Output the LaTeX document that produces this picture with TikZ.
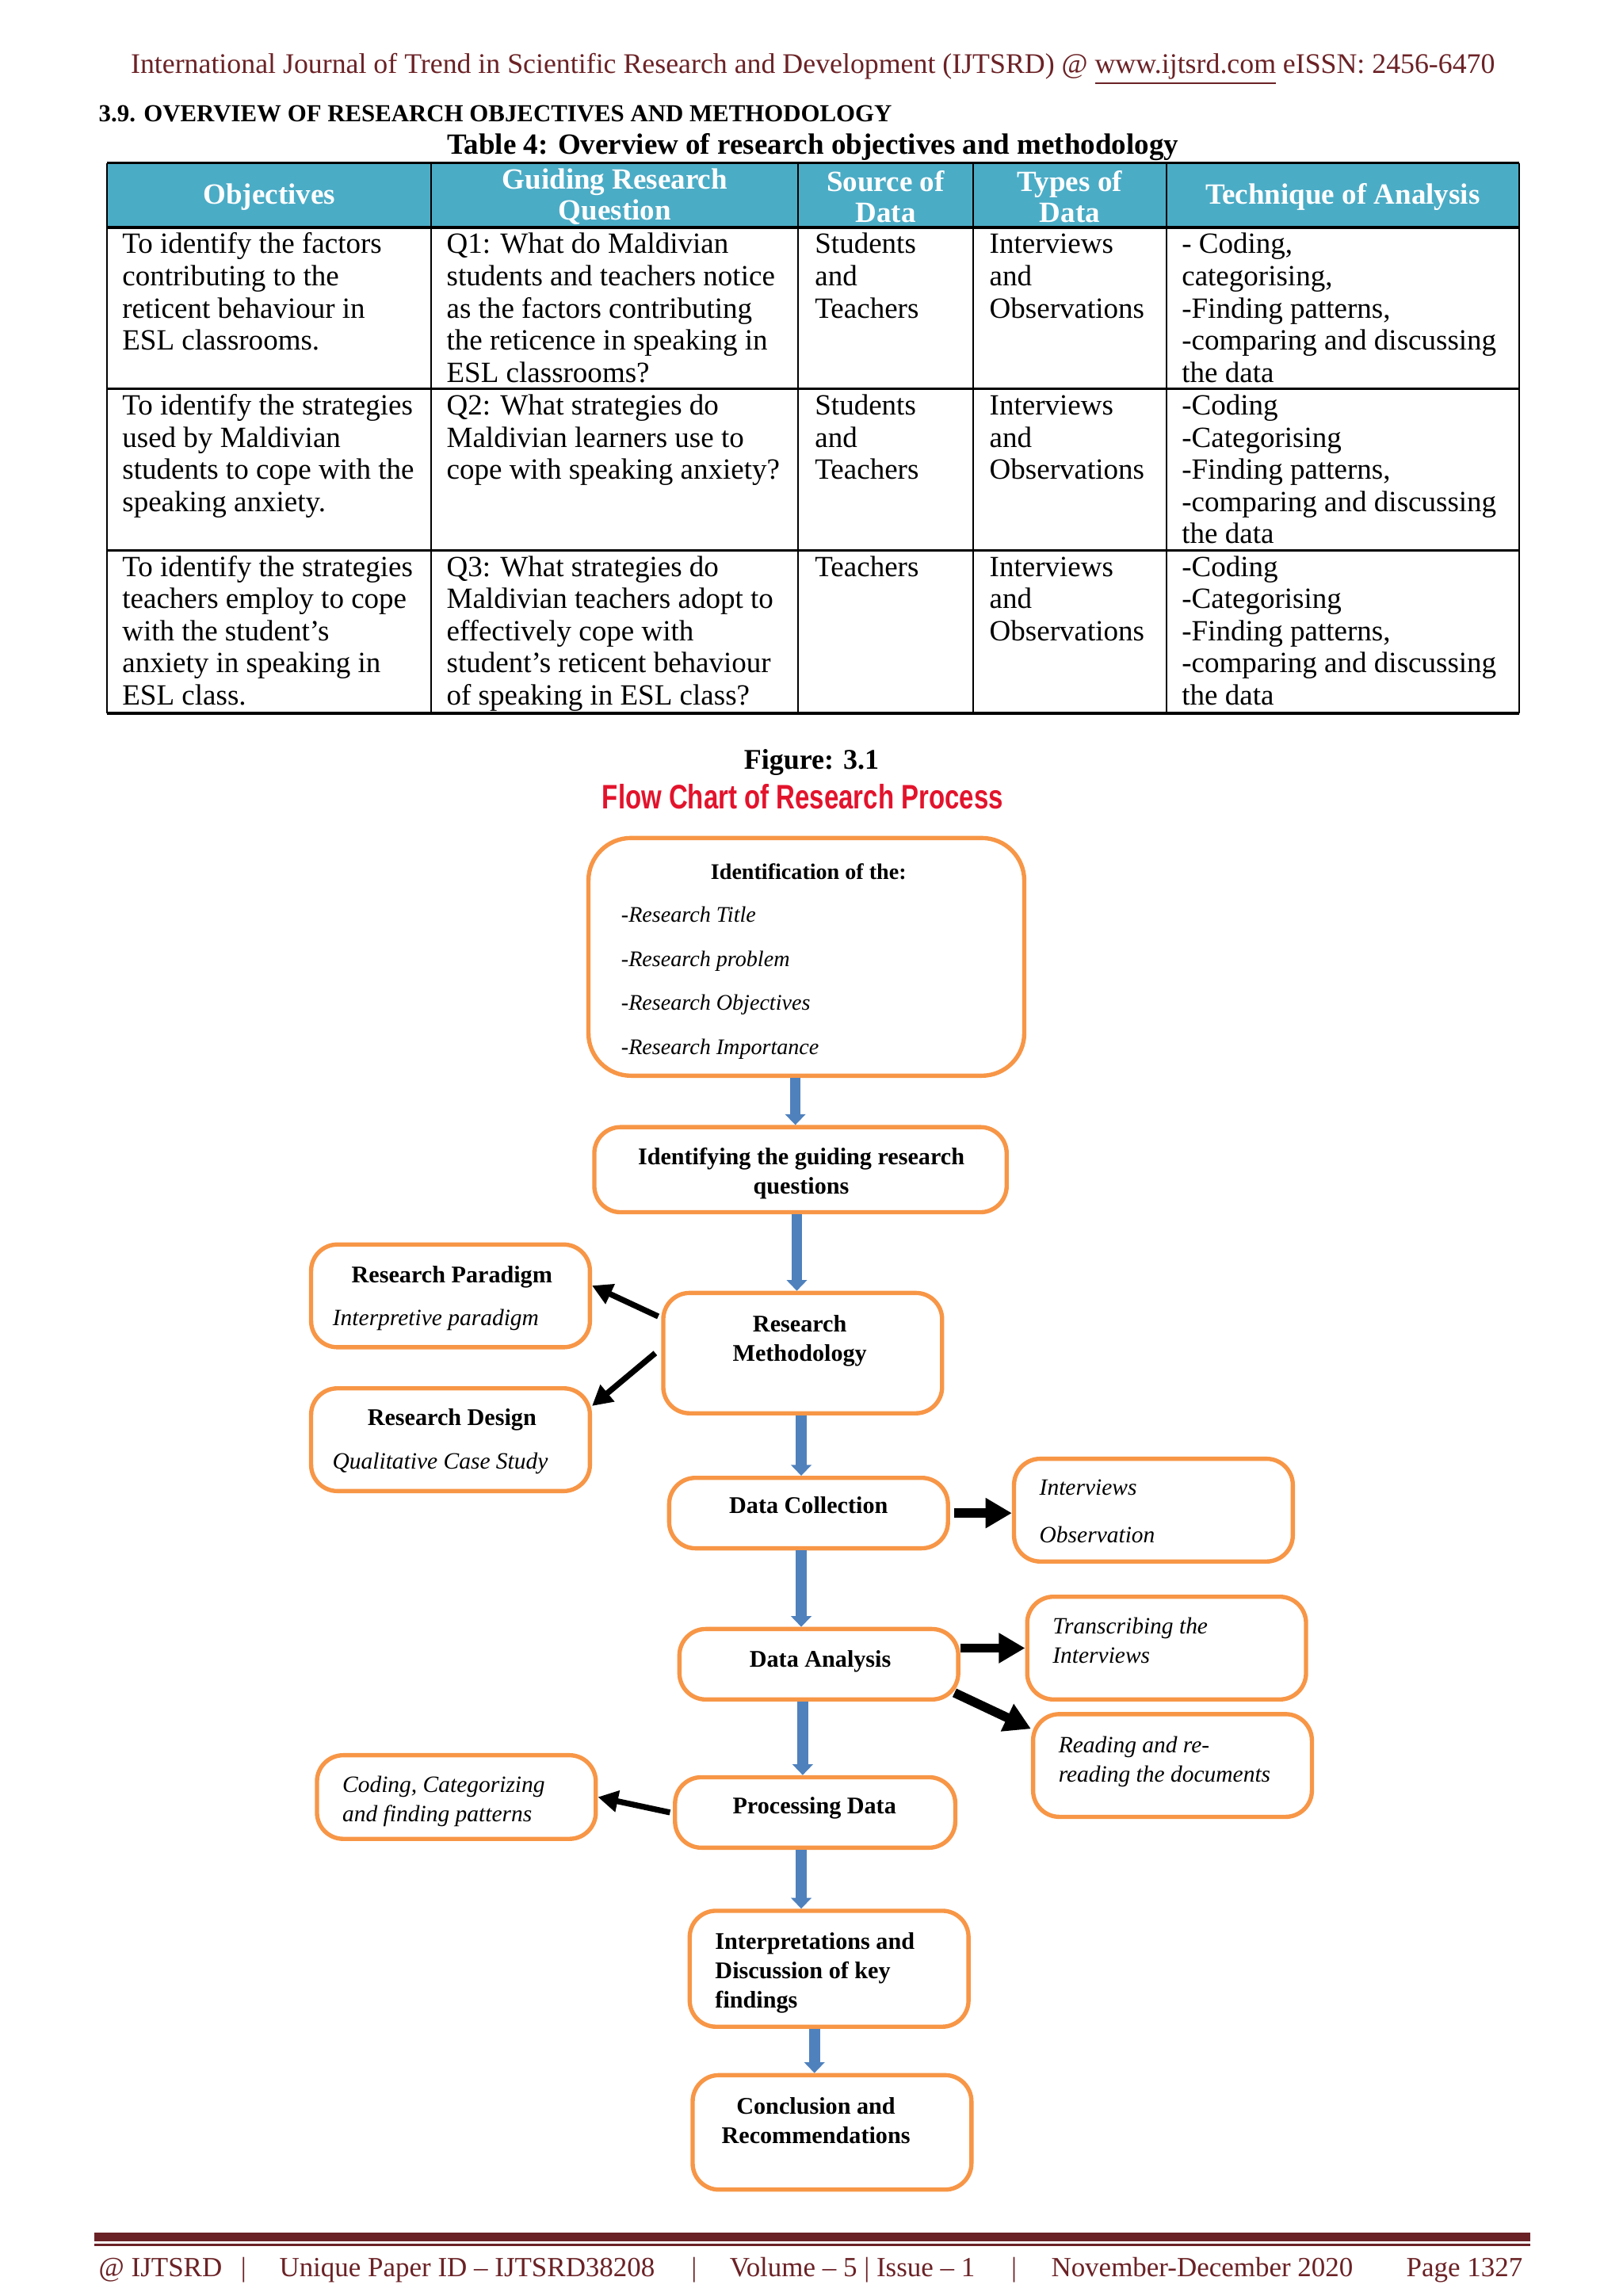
\documentclass[tikz,border=0pt]{standalone}
\usepackage{fontspec}
\setmainfont{Liberation Serif}
\newfontfamily\titlefont[FakeStretch=0.77]{Liberation Sans}
\usetikzlibrary{arrows.meta}
\usetikzlibrary{positioning}

\definecolor{ijmaroon}{HTML}{6B2226}
\definecolor{headteal}{HTML}{4BACC6}
\definecolor{boxorange}{HTML}{F79646}
\definecolor{flowblue}{HTML}{4F81BD}
\definecolor{titlered}{HTML}{E3132C}

\def\pxu{0.18987mm}

\tikzset{
  fcbox/.style={draw=boxorange, line width=0.55mm, rounded corners=3.4mm, fill=white, inner sep=0pt},
  bluearrow/.style={draw=flowblue, line width=1.4mm, -{Triangle[length=1.4mm,width=2.6mm]}},
  blackarrow/.style={draw=black, line width=1.2mm, -{Triangle[length=3.4mm,width=3.7mm]}},
  thinarrow/.style={draw=black, line width=0.75mm, -{Triangle[length=2.6mm,width=2.7mm]}},
  cell/.style={font=\fontsize{10.8}{11.84}\selectfont, anchor=north west, align=left, inner sep=0pt},
  headcell/.style={font=\fontsize{10.8}{11.3}\selectfont\bfseries, text=white, align=center, inner sep=0pt},
  fcbold/.style={font=\fontsize{8.8}{10.8}\selectfont\bfseries, inner sep=0pt},
  fcital/.style={font=\fontsize{8.6}{10.8}\selectfont\itshape, inner sep=0pt},
  pagetext/.style={font=\fontsize{10.2}{12}\selectfont, text=ijmaroon, inner sep=0pt}
}

\begin{document}
\begin{tikzpicture}[x=0.18987mm, y=-0.18987mm]
\useasboundingbox (0,0) rectangle (1106,1564.5);
\fill[white] (0,0) rectangle (1106,1564.5);

\node[pagetext, font=\fontsize{10.45}{12}\selectfont, anchor=base] (jhead) at (554,50) {International Journal of Trend in Scientific Research and Development (IJTSRD) @ \underline{www.ijtsrd.com} eISSN: 2456-6470};
\node[font=\fontsize{9}{11}\selectfont\bfseries, anchor=base west, inner sep=0pt] (sechead) at (67,83) {3.9. OVERVIEW OF RESEARCH OBJECTIVES AND METHODOLOGY};
\node[font=\fontsize{10.8}{12}\selectfont\bfseries, anchor=base, inner sep=0pt] (tabcap) at (554,105) {Table 4: Overview of research objectives and methodology};

\fill[headteal] (73,111) rectangle (1035,155);
\foreach \yy in {111,155,265,375,486}
  \draw[line width=0.35mm] (73,\yy) -- (1035,\yy);
\foreach \xx in {73,294,544,663,795,1035}
  \draw[line width=0.2mm] (\xx,111) -- (\xx,486);

\node[headcell] (hobj) at (183.5,134) {Objectives};
\node[headcell] (hquest) at (419,134) {Guiding Research\\Question};
\node[headcell] (hsource) at (603.5,134) {Source of\\Data};
\node[headcell] (htype) at (729,134) {Types of\\Data};
\node[headcell] (htech) at (915,134) {Technique of Analysis};

\node[cell] (obja) at (83,157) {\strut To identify the factors\\contributing to the\\reticent behaviour in\\ESL classrooms.};
\node[cell] (questa) at (304,157) {\strut Q1: What do Maldivian\\students and teachers notice\\as the factors contributing\\the reticence in speaking in\\ESL classrooms?};
\node[cell] (sourcea) at (555,157) {\strut Students\\and\\Teachers};
\node[cell] (typea) at (674,157) {\strut Interviews\\and\\Observations};
\node[cell] (techa) at (805,157) {\strut - Coding,\\categorising,\\-Finding patterns,\\-comparing and discussing\\the data};

\node[cell] (objb) at (83,267) {\strut To identify the strategies\\used by Maldivian\\students to cope with the\\speaking anxiety.};
\node[cell] (questb) at (304,267) {\strut Q2: What strategies do\\Maldivian learners use to\\cope with speaking anxiety?};
\node[cell] (sourceb) at (555,267) {\strut Students\\and\\Teachers};
\node[cell] (typeb) at (674,267) {\strut Interviews\\and\\Observations};
\node[cell] (techb) at (805,267) {\strut -Coding\\-Categorising\\-Finding patterns,\\-comparing and discussing\\the data};

\node[cell] (objc) at (83,377) {\strut To identify the strategies\\teachers employ to cope\\with the student’s\\anxiety in speaking in\\ESL class.};
\node[cell] (questc) at (304,377) {\strut Q3: What strategies do\\Maldivian teachers adopt to\\effectively cope with\\student’s reticent behaviour\\of speaking in ESL class?};
\node[cell] (sourcec) at (555,377) {\strut Teachers};
\node[cell] (typec) at (674,377) {\strut Interviews\\and\\Observations};
\node[cell] (techc) at (805,377) {\strut -Coding\\-Categorising\\-Finding patterns,\\-comparing and discussing\\the data};

\node[font=\fontsize{10.5}{12}\selectfont\bfseries, anchor=base, inner sep=0pt] (figcap) at (553,524) {Figure: 3.1};
\node[font={\titlefont\bfseries\fontsize{12.5}{14}\selectfont}, text=titlered, anchor=base, inner sep=0pt] (fctitle) at (547,551) {Flow Chart of Research Process};

\node[fcbox, rounded corners=5.5mm, minimum width=297*\pxu, minimum height=162*\pxu] (ident) at (549.5,652) {};
\node[fcbox, minimum width=281*\pxu, minimum height=58*\pxu] (guide) at (545.5,797) {};
\node[fcbox, minimum width=190*\pxu, minimum height=82*\pxu] (meth) at (547,922) {};
\node[fcbox, minimum width=190*\pxu, minimum height=70*\pxu] (para) at (307,883) {};
\node[fcbox, minimum width=190*\pxu, minimum height=70*\pxu] (design) at (307,981) {};
\node[fcbox, minimum width=190*\pxu, minimum height=48*\pxu] (coll) at (551,1031) {};
\node[fcbox, minimum width=190*\pxu, minimum height=70*\pxu] (intv) at (786,1029) {};
\node[fcbox, minimum width=190*\pxu, minimum height=48*\pxu] (anal) at (558,1134) {};
\node[fcbox, minimum width=190*\pxu, minimum height=70*\pxu] (trans) at (795,1123) {};
\node[fcbox, minimum width=190*\pxu, minimum height=70*\pxu] (read) at (799,1203) {};
\node[fcbox, minimum width=191*\pxu, minimum height=48*\pxu] (proc) at (555.5,1235) {};
\node[fcbox, minimum width=190*\pxu, minimum height=57*\pxu] (code) at (311,1224.5) {};
\node[fcbox, minimum width=190*\pxu, minimum height=79*\pxu] (interp) at (565,1341.5) {};
\node[fcbox, minimum width=190*\pxu, minimum height=78*\pxu] (concl) at (567,1453) {};

\node[fcbold, font=\fontsize{8.2}{10}\selectfont\bfseries, anchor=base] (identhead) at (551,599) {Identification of the:};
\node[fcital, font=\fontsize{8.2}{16.2}\selectfont\itshape, anchor=north west, align=left] (identlist) at (423,607) {\strut -Research Title\\-Research problem\\-Research Objectives\\-Research Importance};
\node[fcbold, anchor=north, align=center] (guidetxt) at (546,779) {\strut Identifying the guiding research\\questions};
\node[fcbold, anchor=north, align=center] (methtxt) at (545,893) {\strut Research\\Methodology};
\node[fcbold, anchor=base] (paratxt) at (308,874) {Research Paradigm};
\node[fcital, anchor=base] (parasub) at (297,903) {Interpretive paradigm};
\node[fcbold, anchor=base] (designtxt) at (308,971) {Research Design};
\node[fcital, anchor=base] (designsub) at (300,1001) {Qualitative Case Study};
\node[fcbold, anchor=base] (colltxt) at (551,1031) {Data Collection};
\node[fcital, anchor=base west] (intvone) at (708,1019) {Interviews};
\node[fcital, anchor=base west] (intvtwo) at (708,1051) {Observation};
\node[fcbold, anchor=base] (analtxt) at (559,1136) {Data Analysis};
\node[fcital, anchor=north west, align=left] (transtxt) at (717,1099) {\strut Transcribing the\\Interviews};
\node[fcital, anchor=north west, align=left] (readtxt) at (721,1180) {\strut Reading and re-\\reading the documents};
\node[fcbold, anchor=base] (proctxt) at (555,1236) {Processing Data};
\node[fcital, anchor=north west, align=left] (codetxt) at (233,1207) {\strut Coding, Categorizing\\and finding patterns};
\node[fcbold, anchor=north west, align=left] (interptxt) at (487,1314) {\strut Interpretations and\\Discussion of key\\findings};
\node[fcbold, anchor=north, align=center] (concltxt) at (556,1426) {\strut Conclusion and\\Recommendations};

\draw[bluearrow] (ident.south -| 542,0) -- (guide.north -| 542,0);
\draw[bluearrow] (guide.south -| 543,0) -- (meth.north -| 543,0);
\draw[bluearrow] (meth.south -| 546,0) -- (coll.north -| 546,0);
\draw[bluearrow] (coll.south -| 546,0) -- (anal.north -| 546,0);
\draw[bluearrow] (anal.south -| 547,0) -- (proc.north -| 547,0);
\draw[bluearrow] (proc.south -| 546,0) -- (interp.north -| 546,0);
\draw[bluearrow] (interp.south -| 555,0) -- (concl.north -| 555,0);

\draw[thinarrow] ([xshift=-2*\pxu,yshift=25*\pxu]meth.west) -- ([yshift=7*\pxu]para.east);
\draw[thinarrow] ([xshift=-4*\pxu]meth.west) -- ([yshift=23*\pxu]design.east);
\draw[blackarrow] ([xshift=3*\pxu]coll.east) -- (intv.west |- coll.east);
\draw[blackarrow] (anal.east |- trans.west) -- (trans.west);
\draw[blackarrow] ([xshift=-4*\pxu,yshift=6*\pxu]anal.south east) -- ([yshift=25*\pxu]read.west);
\draw[thinarrow] ([xshift=-2*\pxu]proc.west) -- (code.east);

\fill[ijmaroon] (64,1521.3) rectangle (1043,1527.2);
\draw[ijmaroon, line width=0.3mm] (64,1529.6) -- (1043,1529.6);
\node[pagetext, anchor=base west] (fid) at (67,1551) {@ IJTSRD};
\node[pagetext, anchor=base] (fbara) at (166,1551) {|};
\node[pagetext, anchor=base west] (fpaper) at (190,1551) {Unique Paper ID -- IJTSRD38208};
\node[pagetext, anchor=base] (fbarb) at (473,1551) {|};
\node[pagetext, anchor=base west] (fvol) at (497,1551) {Volume -- 5 | Issue -- 1};
\node[pagetext, anchor=base] (fbarc) at (691,1551) {|};
\node[pagetext, anchor=base west] (fdate) at (716,1551) {November-December 2020};
\node[pagetext, anchor=base west] (fpage) at (958,1551) {Page 1327};

\end{tikzpicture}
\end{document}
